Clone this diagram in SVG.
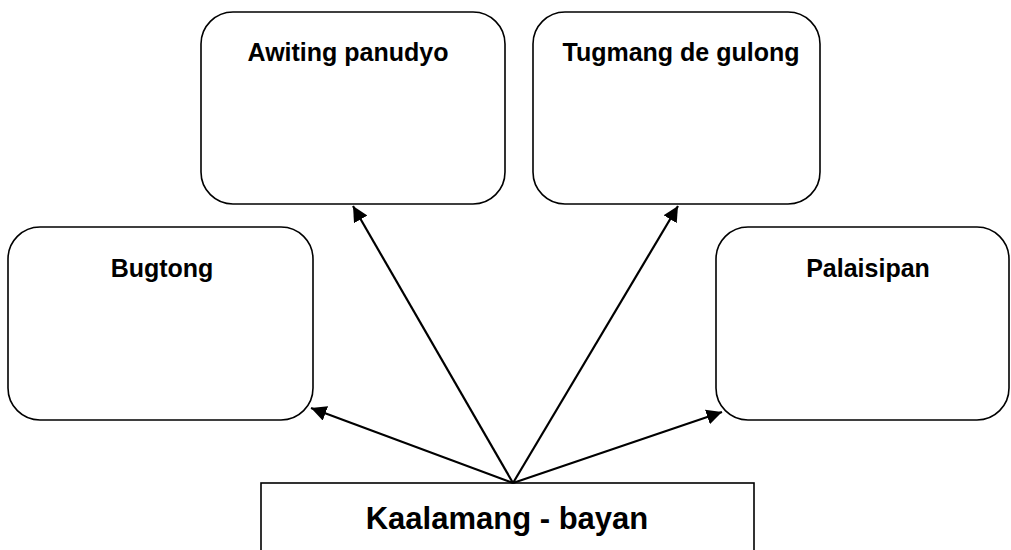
<svg xmlns="http://www.w3.org/2000/svg" width="1011" height="550" viewBox="0 0 1011 550">
  <style>
    .box { fill: #ffffff; stroke: #000000; stroke-width: 1.6; }
    .lbl { font-family: "Liberation Sans", Arial, sans-serif; font-weight: bold; font-size: 25px; fill: #000000; text-anchor: middle; }
    .big { font-size: 31px; }
    .conn { stroke: #000000; stroke-width: 2.2; fill: none; marker-end: url(#arrow); }
  </style>
  <defs>
    <marker id="arrow" viewBox="0 0 10 10" refX="10" refY="5" markerWidth="7" markerHeight="7" markerUnits="strokeWidth" orient="auto">
      <path d="M0,0 L10,5 L0,10 z" fill="#000000"/>
    </marker>
  </defs>
  <rect width="1011" height="550" fill="#ffffff"/>
  <g id="awiting">
    <rect class="box" x="201" y="12" width="304" height="192" rx="32" ry="32"/>
    <text class="lbl" x="348" y="61">Awiting panudyo</text>
  </g>
  <g id="tugmang">
    <rect class="box" x="533" y="12" width="287" height="192" rx="32" ry="32"/>
    <text class="lbl" x="681" y="61">Tugmang de gulong</text>
  </g>
  <g id="bugtong">
    <rect class="box" x="8" y="227" width="305" height="193" rx="32" ry="32"/>
    <text class="lbl" x="162" y="277">Bugtong</text>
  </g>
  <g id="palaisipan">
    <rect class="box" x="716" y="227" width="293" height="193" rx="32" ry="32"/>
    <text class="lbl" x="868" y="277">Palaisipan</text>
  </g>
  <g id="kaalamang">
    <rect class="box" x="261" y="483" width="493" height="100"/>
    <text class="lbl big" x="507" y="529">Kaalamang - bayan</text>
  </g>
  <g id="connectors">
    <line class="conn" x1="513" y1="483" x2="353" y2="206"/>
    <line class="conn" x1="513" y1="483" x2="678" y2="206"/>
    <line class="conn" x1="513" y1="483" x2="311" y2="408"/>
    <line class="conn" x1="513" y1="483" x2="722" y2="412"/>
  </g>
</svg>
